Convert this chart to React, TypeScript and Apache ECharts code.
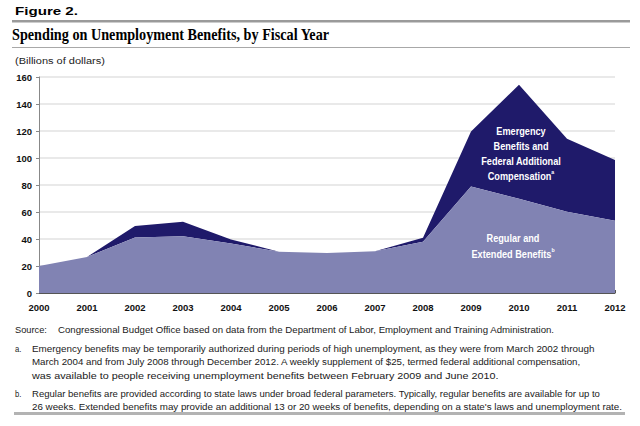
import React, { useEffect, useRef } from "react";
import * as echarts from "echarts";

const years = ["2000", "2001", "2002", "2003", "2004", "2005", "2006", "2007", "2008", "2009", "2010", "2011", "2012"];
const regularBenefits = [20, 26.7, 41.2, 42.1, 36.7, 30.5, 29.7, 31, 37.9, 78.8, 69.8, 60.2, 53.5];
const emergencyBenefits = [0, 0, 8.4, 10.7, 3, 0, 0, 0, 3, 40.8, 84.5, 54, 45.1];
const yMin = 0;
const yMax = 160;
const yStep = 20;

const figureLabel = "Figure 2.";
const titleText = "Spending on Unemployment Benefits, by Fiscal Year";
const unitText = "(Billions of dollars)";
const sourceLabel = "Source:";
const sourceText = "Congressional Budget Office based on data from the Department of Labor, Employment and Training Administration.";
const noteA = [
  "Emergency benefits may be temporarily authorized during periods of high unemployment, as they were from March 2002 through",
  "March 2004 and from July 2008 through December 2012. A weekly supplement of $25, termed federal additional compensation,",
  "was available to people receiving unemployment benefits between February 2009 and June 2010.",
];
const noteB = [
  "Regular benefits are provided according to state laws under broad federal parameters. Typically, regular benefits are available for up to",
  "26 weeks. Extended benefits may provide an additional 13 or 20 weeks of benefits, depending on a state's laws and unemployment rate.",
];
const emergencyLabel = ["Emergency", "Benefits and", "Federal Additional", "Compensation"];
const regularLabel = ["Regular and", "Extended Benefits"];

const SANS = "'Liberation Sans', Arial, sans-serif";
const SERIF = "'Liberation Serif', 'Times New Roman', serif";

function fitScale(text: string, weight: string, size: number, family: string, target: number): number {
  const ctx = document.createElement("canvas").getContext("2d");
  if (!ctx) return 1;
  ctx.font = `${weight} ${size}px ${family}`;
  const w = ctx.measureText(text).width;
  return w > 0 ? target / w : 1;
}

function txt(text: string, x: number, y: number, size: number, weight: string, family: string, color: string, scaleX: number, align = "left") {
  return {
    type: "text",
    x,
    y,
    z: 100,
    scaleX,
    style: {
      text,
      fontSize: size,
      fontWeight: weight,
      fontFamily: family,
      fill: color,
      align,
      verticalAlign: "middle",
    },
  };
}

export default function App() {
  const ref = useRef<HTMLDivElement>(null);
  useEffect(() => {
    if (!ref.current) return;
    const chart = echarts.init(ref.current, undefined, { renderer: "svg" });

    const noteSize = 9;
    const noteColor = "#1a1a1a";
    const graphics: any[] = [];
    graphics.push(txt(figureLabel, 15, 11, 11.5, "900", SANS, "#000", fitScale(figureLabel, "bold", 11.5, SANS, 63)));
    graphics.push({ type: "rect", shape: { x: 12, y: 20, width: 618, height: 2.5 }, style: { fill: "#9a9a9a" } });
    graphics.push(txt(titleText, 12, 34, 17, "bold", SERIF, "#000", fitScale(titleText, "bold", 17, SERIF, 318)));
    graphics.push({ type: "rect", shape: { x: 12, y: 47, width: 618, height: 1 }, style: { fill: "#a8a8a8" } });
    graphics.push(txt(unitText, 15, 61, 9.5, "normal", SANS, "#1a1a1a", fitScale(unitText, "normal", 9.5, SANS, 90)));

    graphics.push(txt(sourceLabel, 15, 330, noteSize, "normal", SANS, noteColor, fitScale(sourceLabel, "normal", noteSize, SANS, 32)));
    graphics.push(txt(sourceText, 58, 330, noteSize, "normal", SANS, noteColor, fitScale(sourceText, "normal", noteSize, SANS, 497)));
    const aTargets = [563, 550, 467];
    const aY = [348.5, 362, 375.5];
    graphics.push(txt("a.", 15, aY[0], noteSize, "normal", SANS, noteColor, 0.85));
    noteA.forEach((t, i) => graphics.push(txt(t, 32, aY[i], noteSize, "normal", SANS, noteColor, fitScale(t, "normal", noteSize, SANS, aTargets[i]))));
    const bTargets = [569, 591];
    const bY = [394, 407];
    graphics.push(txt("b.", 15, bY[0], noteSize, "normal", SANS, noteColor, 0.85));
    noteB.forEach((t, i) => graphics.push(txt(t, 32, bY[i], noteSize, "normal", SANS, noteColor, fitScale(t, "normal", noteSize, SANS, bTargets[i]))));
    graphics.push({ type: "rect", shape: { x: 14, y: 412, width: 611, height: 3 }, style: { fill: "#b3b3b3" } });

    const lblSize = 10.5;
    const lblScale = fitScale("Federal Additional", "bold", lblSize, SANS, 80);
    const richStyle = {
      n: { fontSize: lblSize, fontWeight: "bold", fontFamily: SANS, fill: "#fff", lineHeight: 14 },
      s: { fontSize: 6, fontWeight: "bold", fontFamily: SANS, fill: "#fff", lineHeight: 8, verticalAlign: "top" },
    };
    const emY = [131.5, 146.5, 161, 176];
    emergencyLabel.forEach((t, i) => {
      const last = i === emergencyLabel.length - 1;
      graphics.push({
        type: "text",
        x: 521,
        y: emY[i],
        z: 100,
        scaleX: lblScale,
        style: {
          text: last ? `{n|${t}}{s|a}` : `{n|${t}}`,
          align: "center",
          verticalAlign: "middle",
          fill: "#fff",
          rich: richStyle,
        },
      });
    });
    const rgY = [238, 254];
    regularLabel.forEach((t, i) => {
      const last = i === regularLabel.length - 1;
      graphics.push({
        type: "text",
        x: 513,
        y: rgY[i],
        z: 100,
        scaleX: lblScale,
        style: {
          text: last ? `{n|${t}}{s|b}` : `{n|${t}}`,
          align: "center",
          verticalAlign: "middle",
          fill: "#fff",
          rich: richStyle,
        },
      });
    });

    chart.setOption({
      animation: false,
      backgroundColor: "#fff",
      grid: { left: 39, right: 25, top: 77, bottom: 133 },
      xAxis: {
        type: "category",
        data: years,
        boundaryGap: false,
        axisLine: { show: true, lineStyle: { color: "#555", width: 1 } },
        axisTick: { show: true, inside: true, length: 3, lineStyle: { color: "#555" } },
        axisLabel: { fontSize: 9.5, fontWeight: "bold", fontFamily: SANS, color: "#111", margin: 9 },
        splitLine: { show: false },
      },
      yAxis: {
        type: "value",
        min: yMin,
        max: yMax,
        interval: yStep,
        axisLine: { show: true, lineStyle: { color: "#888", width: 1 } },
        axisTick: { show: true, length: 3, lineStyle: { color: "#888" } },
        axisLabel: { fontSize: 9.5, fontWeight: "bold", fontFamily: SANS, color: "#111", margin: 7 },
        splitLine: { show: true, lineStyle: { color: "#e2e2e2", width: 1.5 } },
      },
      series: [
        {
          name: "Regular and Extended Benefits",
          type: "line",
          stack: "total",
          data: regularBenefits,
          symbol: "none",
          lineStyle: { width: 0 },
          areaStyle: { color: "#8183b3", opacity: 1 },
          z: 3,
        },
        {
          name: "Emergency Benefits and Federal Additional Compensation",
          type: "line",
          stack: "total",
          data: emergencyBenefits,
          symbol: "none",
          lineStyle: { width: 0 },
          areaStyle: { color: "#1f1a6a", opacity: 1 },
          z: 2,
        },
      ],
      graphic: graphics,
    });
    return () => chart.dispose();
  }, []);
  return <div ref={ref} style={{ position: "fixed", left: 0, top: 0, width: 640, height: 426 }} />;
}
